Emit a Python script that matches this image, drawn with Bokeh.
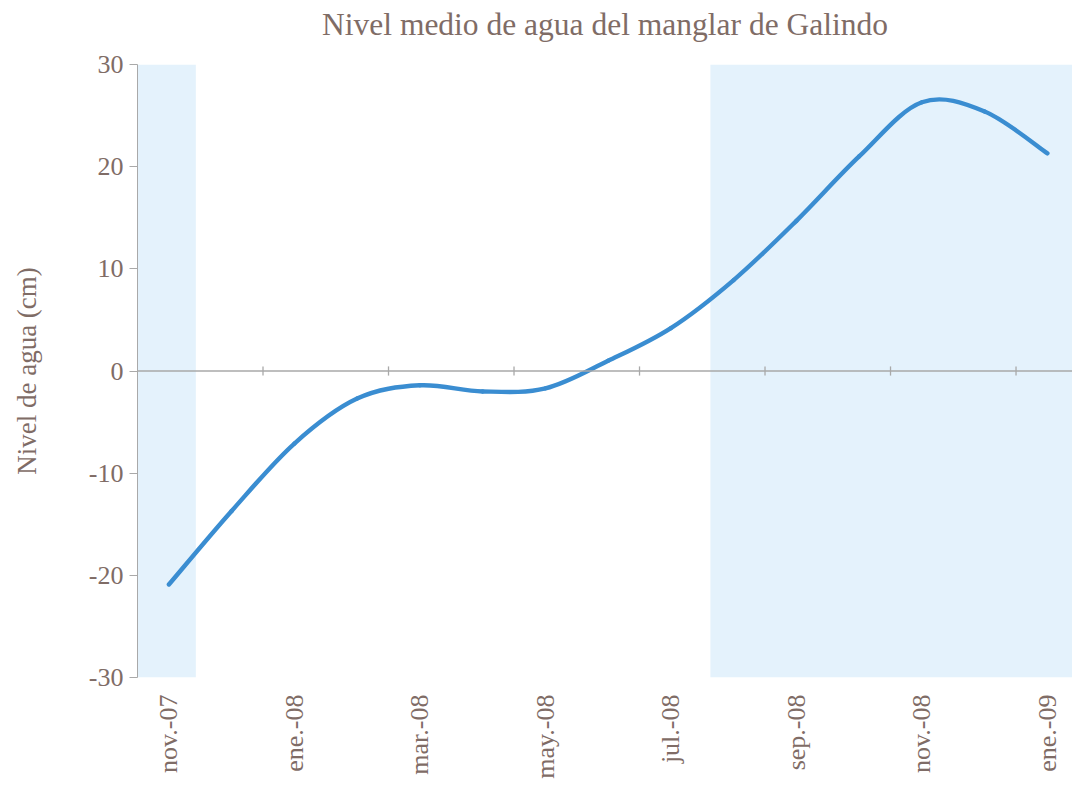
import numpy as np
from bokeh.plotting import figure
from bokeh.models import Range1d, FixedTicker, BoxAnnotation, Span, Title
from bokeh.embed import file_html
from bokeh.resources import INLINE

# ---- data ----
month_labels = ["nov.-07", "dic.-07", "ene.-08", "feb.-08", "mar.-08", "abr.-08",
                "may.-08", "jun.-08", "jul.-08", "ago.-08", "sep.-08", "oct.-08",
                "nov.-08", "dic.-08", "ene.-09"]
water_level = [-20.9, -13.7, -7.1, -2.7, -1.4, -2.0, -1.7, 1.0, 4.2, 8.9, 14.7,
               21.0, 26.3, 25.4, 21.3]
# shaded (rainy) periods, expressed in month-slot units
shade_left_end = 0.43
shade_right_start = 8.63
y_ticks = [-30, -20, -10, 0, 10, 20, 30]
y_tick_labels = ["-30", "-20", "-10", "0", "10", "20", "30"]
title_text = "Nivel medio de agua del manglar de Galindo"

TEXT = "#7f6c66"
AXIS = "#a9a9a9"
FONT = "Liberation Serif"

n = len(month_labels)
x = np.arange(n, dtype=float)
y = np.array(water_level, dtype=float)

p = figure(width=1072, height=785, output_backend="svg", toolbar_location=None,
           x_range=Range1d(-0.5, 14.4), y_range=Range1d(-30, 30),
           min_border_left=137, min_border_right=0, min_border_top=64,
           min_border_bottom=108)
p.outline_line_color = None
p.grid.visible = False
p.background_fill_color = "white"

# spacer (nearest the frame) then the actual title above it
p.add_layout(Title(text=" ", text_font_size="1px", standoff=18), "above")
p.add_layout(Title(text=title_text, text_font=FONT, text_font_size="31.5px",
                   text_font_style="normal", text_color=TEXT, align="center",
                   standoff=4), "above")

# shaded seasons
p.add_layout(BoxAnnotation(right=shade_left_end, fill_color="#e4f2fc", fill_alpha=1.0,
                           line_color=None, level="underlay"))
p.add_layout(BoxAnnotation(left=shade_right_start, fill_color="#e4f2fc", fill_alpha=1.0,
                           line_color=None, level="underlay"))

# horizontal axis line at zero with category-boundary ticks
p.add_layout(Span(location=0, dimension="width", line_color=AXIS, line_width=1.3))
bx = np.arange(0, n, 2) - 0.5
bx = bx[bx > -0.5]
p.segment(x0=bx, y0=np.full(len(bx), -0.45), x1=bx, y1=np.full(len(bx), 0.45),
          line_color=AXIS, line_width=1.3)

# smoothed line (Excel-like Bezier smoothing)
xp = np.concatenate([[x[0]], x, [x[-1]]])
yp = np.concatenate([[y[0]], y, [y[-1]]])
x0, y0 = x[:-1], y[:-1]
x1, y1 = x[1:], y[1:]
cx0 = x0 + (xp[2:-1] - xp[:-3]) / 6.0
cy0 = y0 + (yp[2:-1] - yp[:-3]) / 6.0
cx1 = x1 - (xp[3:] - xp[1:-2]) / 6.0
cy1 = y1 - (yp[3:] - yp[1:-2]) / 6.0
p.bezier(x0=x0, y0=y0, x1=x1, y1=y1, cx0=cx0, cy0=cy0, cx1=cx1, cy1=cy1,
         line_color="#3a8dd1", line_width=4.4, line_cap="round")

# y axis
ya = p.yaxis[0]
ya.ticker = FixedTicker(ticks=y_ticks)
ya.major_label_overrides = {t: s for t, s in zip(y_ticks, y_tick_labels)}
ya.axis_label = "Nivel de agua (cm)"
ya.axis_label_text_font = FONT
ya.axis_label_text_font_size = "27px"
ya.axis_label_text_font_style = "normal"
ya.axis_label_text_color = TEXT
ya.axis_label_standoff = 44
ya.major_label_text_font = FONT
ya.major_label_text_font_size = "26px"
ya.major_label_text_color = TEXT
ya.major_label_standoff = 6
ya.axis_line_color = AXIS
ya.major_tick_line_color = AXIS
ya.major_tick_in = 0
ya.major_tick_out = 8
ya.minor_tick_line_color = None

# x axis (labels only)
xa = p.xaxis[0]
xa.ticker = FixedTicker(ticks=list(range(0, n, 2)))
xa.major_label_overrides = {i: month_labels[i] for i in range(0, n, 2)}
xa.major_label_orientation = np.pi / 2
xa.major_label_text_font = FONT
xa.major_label_text_font_size = "26px"
xa.major_label_text_color = TEXT
xa.major_label_standoff = 11
xa.axis_line_color = None
xa.major_tick_line_color = None
xa.minor_tick_line_color = None

open("out.html", "w").write(file_html(p, INLINE))
